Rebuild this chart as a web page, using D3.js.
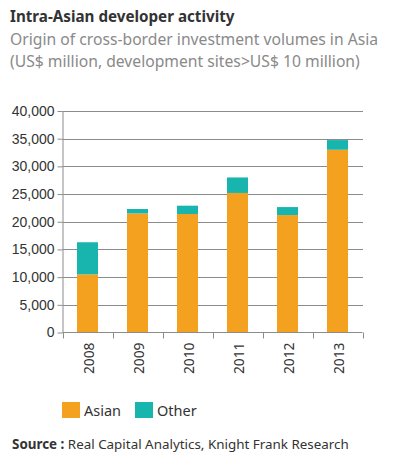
<!DOCTYPE html>
<html>
<head>
<meta charset="utf-8">
<script src="https://cdn.jsdelivr.net/npm/d3@7"></script>
<style>
  body { margin: 0; background: #fff; }
  svg { display: block; font-family: "Noto Sans", "Open Sans", sans-serif; }
</style>
</head>
<body>
<div class="chart_container"></div>
<script>
var width = 393
var height = 465

var years = ["2008", "2009", "2010", "2011", "2012", "2013"]
var asian = [10500, 21500, 21400, 25200, 21200, 33000]
var other = [5800, 800, 1500, 2800, 1450, 1750]
var yTicks = [0, 5000, 10000, 15000, 20000, 25000, 30000, 35000, 40000]
var seriesNames = ["Asian", "Other"]
var seriesColors = ["#f4a11f", "#18b5ae"]

var rows = years.map(function (y, i) {
  return { year: y, Asian: asian[i], Other: other[i] }
})
var stacked = d3.stack().keys(seriesNames)(rows)

var svg = d3.select(".chart_container").append("svg")
  .attr("width", width)
  .attr("height", height)

// titles
svg.append("text")
  .attr("x", 10).attr("y", 22)
  .style("font-size", "15.2px").style("font-weight", "bold")
  .attr("fill", "#333")
  .text("Intra-Asian developer activity")

var subtitle = ["Origin of cross-border investment volumes in Asia",
                "(US$ million, development sites>US$ 10 million)"]
svg.selectAll(".sub").data(subtitle).enter().append("text")
  .attr("class", "sub")
  .attr("x", 10)
  .attr("y", function (d, i) { return 45 + i * 22 })
  .style("font-size", "15.7px")
  .attr("fill", "#8a8a8a")
  .text(function (d) { return d })

var scaleX = d3.scaleBand()
  .domain(years)
  .range([62.5, 362.5])
  .paddingInner(0.58)
  .paddingOuter(0.29)

var scaleY = d3.scaleLinear()
  .domain([0, 40000])
  .range([332.5, 111])

// gridlines
svg.append("g")
  .selectAll("line").data(yTicks.slice(1)).enter().append("line")
  .attr("x1", 62.5).attr("x2", 363)
  .attr("y1", function (d) { return Math.round(scaleY(d)) + 0.5 })
  .attr("y2", function (d) { return Math.round(scaleY(d)) + 0.5 })
  .attr("stroke", "#8c8c8c")

var axisLeft = d3.axisLeft(scaleY)
  .tickValues(yTicks)
  .tickFormat(d3.format(","))
  .tickSizeInner(5)
  .tickSizeOuter(0)
  .tickPadding(3)

var gy = svg.append("g")
  .attr("transform", "translate(62.5,0)")
  .call(axisLeft)
gy.selectAll("text").style("font-size", "14px").attr("fill", "#333")
gy.selectAll("line, path").attr("stroke", "#8c8c8c")

// bars
svg.append("g")
  .selectAll("g").data(stacked).enter().append("g")
  .attr("fill", function (d, i) { return seriesColors[i] })
  .selectAll("rect").data(function (d) { return d }).enter().append("rect")
  .attr("x", function (d) { return scaleX(d.data.year) })
  .attr("width", scaleX.bandwidth())
  .attr("y", function (d) { return scaleY(d[1]) })
  .attr("height", function (d) { return scaleY(d[0]) - scaleY(d[1]) })

// x axis with ticks between bands
var gx = svg.append("g")
  .attr("transform", "translate(0,332.5)")
gx.append("line")
  .attr("x1", 62.5).attr("x2", 362.5)
  .attr("stroke", "#8c8c8c")
var bounds = years.map(function (y) { return scaleX(y) - scaleX.step() * 0.29 })
bounds.push(362.5)
gx.selectAll(".sep").data(bounds).enter().append("line")
  .attr("class", "sep")
  .attr("x1", function (d) { return Math.round(d) + 0.5 })
  .attr("x2", function (d) { return Math.round(d) + 0.5 })
  .attr("y1", 0).attr("y2", 6)
  .attr("stroke", "#8c8c8c")
gx.selectAll(".yl").data(years).enter().append("text")
  .attr("class", "yl")
  .attr("transform", function (d) {
    return "translate(" + (scaleX(d) + scaleX.bandwidth() / 2 + 6) + ",10) rotate(-90)"
  })
  .attr("text-anchor", "end")
  .style("font-size", "13.8px")
  .attr("fill", "#333")
  .text(function (d) { return d })

// legend
var legend = svg.append("g")
  .selectAll("g").data(seriesNames).enter().append("g")
  .attr("transform", function (d, i) { return "translate(" + (62 + i * 73) + ",402)" })
legend.append("rect")
  .attr("width", 18).attr("height", 16)
  .attr("fill", function (d, i) { return seriesColors[i] })
legend.append("text")
  .attr("x", 22).attr("y", 14)
  .style("font-size", "14.5px")
  .attr("fill", "#333")
  .text(function (d) { return d })

// source
var src = svg.append("text")
  .attr("x", 12).attr("y", 449)
  .style("font-size", "13.4px")
  .attr("fill", "#333")
src.append("tspan").style("font-weight", "bold").text("Source : ")
src.append("tspan").text("Real Capital Analytics, Knight Frank Research")
</script>
</body>
</html>
